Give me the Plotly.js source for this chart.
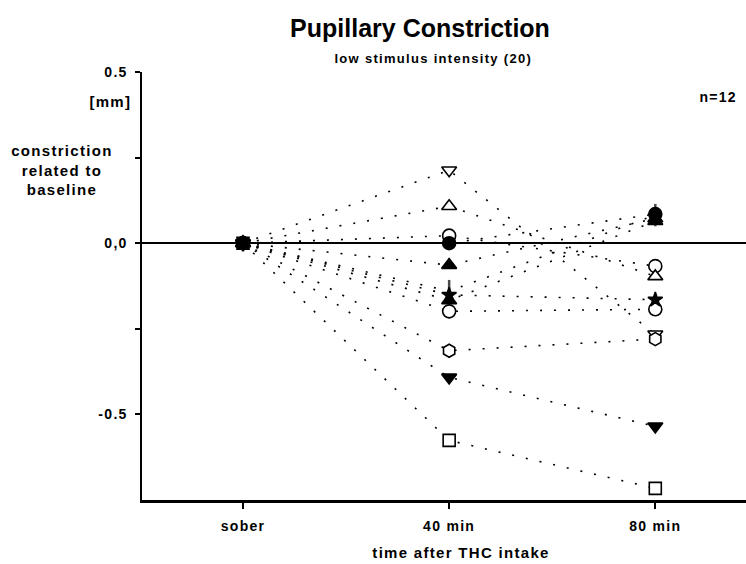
<!DOCTYPE html>
<html>
<head>
<meta charset="utf-8">
<script src="https://cdn.plot.ly/plotly-3.0.1.min.js"></script>
<style>
html,body{margin:0;padding:0;background:#fff}
#chart{width:746px;height:564px}
#chart text{letter-spacing:1.3px}
#chart text.gtitle{letter-spacing:0px}
</style>
</head>
<body>
<div id="chart"></div>
<script>
// Categories (time points)
const timeLabels = ["sober", "40 min", "80 min"];
const timeIndex = [0, 1, 2];

// Per-subject values (constriction related to baseline, mm)
const s1_downOpen   = [0, 0.213, -0.266];
const s2_upOpen     = [0, 0.108, -0.097];
const s3_circleOpen = [0, 0.022, -0.067];
const s4_circleFill = [0, 0.000, 0.085];
const s5_upFill     = [0, -0.064, 0.072];
const s6_vline      = [0, -0.140, 0.082];
const s7_star       = [0, -0.151, -0.165];
const s8_upFill2    = [0, -0.167, 0.064];
const s9_circleOpen = [0, -0.199, -0.193];
const s10_hexOpen   = [0, -0.314, -0.280];
const s11_downFill  = [0, -0.392, -0.535];
const s12_squareOpen= [0, -0.576, -0.716];

const yTickVals = [0.5, 0.25, 0, -0.25, -0.5];
const yTickText = ["0.5", "", "0,0", "", "-0.5"];

const dotLine = {color: "#000", width: 1.6, dash: "2px,12px"};
function subj(y, symbol, fill, size, lw) {
  return {
    x: timeIndex, y: y, type: "scatter", mode: "lines+markers",
    line: dotLine, cliponaxis: false, hoverinfo: "skip",
    marker: {symbol: symbol, size: size || 13, color: fill, line: {color: "#000", width: lw === undefined ? 1.6 : lw}}
  };
}
const traces = [
  subj(s6_vline, "line-ns", "#000", [12, 16, 16], 2.5),
  subj(s3_circleOpen, "circle", "#fff"),
  subj(s1_downOpen, "triangle-down", "#fff"),
  subj(s2_upOpen, "triangle-up", "#fff"),
  subj(s10_hexOpen, "hexagon", "#fff"),
  subj(s9_circleOpen, "circle", "#fff"),
  subj(s8_upFill2, "triangle-up", "#000"),
  subj(s7_star, "star", "#000", 11),
  subj(s5_upFill, "triangle-up", "#000"),
  subj(s4_circleFill, "circle", "#000"),
  subj(s11_downFill, "triangle-down", "#000"),
  subj(s12_squareOpen, "square", ["#000", "#fff", "#fff"], 12)
];

const F = "Liberation Sans, Arial, sans-serif";
const W = 746, H = 564, L = 142, R = 0, T = 72, B = 64;
const layout = {
  width: W, height: H,
  margin: {l: L, r: R, t: T, b: B},
  paper_bgcolor: "#fff", plot_bgcolor: "#fff",
  showlegend: false,
  font: {family: F, color: "#000", weight: "bold"},
  title: {text: "Pupillary Constriction", x: 420 / W, xanchor: "center", xref: "container",
          y: 1 - 28 / H, yanchor: "middle", yref: "container",
          font: {family: F, size: 25, weight: "bold"}},
  xaxis: {
    range: [-0.49, 2.44], showgrid: false, zeroline: false,
    showline: true, linewidth: 2.5, linecolor: "#000",
    ticks: "outside", ticklen: 6, tickwidth: 2, tickcolor: "#000",
    tickvals: timeIndex, ticktext: timeLabels,
    tickfont: {family: F, size: 14, weight: "bold"},
    ticklabelstandoff: 6
  },
  yaxis: {
    range: [-0.75, 0.5], showgrid: false,
    zeroline: true, zerolinecolor: "#000", zerolinewidth: 1.5,
    showline: true, linewidth: 2.5, linecolor: "#000",
    ticks: "outside", ticklen: 5, tickwidth: 2, tickcolor: "#000",
    tickvals: yTickVals, ticktext: yTickText,
    tickfont: {family: F, size: 14, weight: "bold"},
    ticklabelstandoff: 4
  },
  annotations: [
    {text: "low stimulus intensity (20)", showarrow: false,
     font: {family: F, size: 13, weight: "bold"}, xanchor: "center", yanchor: "middle"},
    {text: "[mm]", showarrow: false, font: {family: F, size: 15, weight: "bold"}, xanchor: "right", yanchor: "middle"},
    {text: "constriction<br>related to<br>baseline", showarrow: false, align: "center",
     font: {family: F, size: 15, weight: "bold"}, xanchor: "center", yanchor: "middle"},
    {text: "n=12", showarrow: false, font: {family: F, size: 14, weight: "bold"}, xanchor: "center", yanchor: "middle"},
    {text: "time after THC intake", showarrow: false, font: {family: F, size: 15, weight: "bold"}, xanchor: "center", yanchor: "middle"}
  ]
};
function px(x) { return (x - L) / (W - L - R); }
function py(y) { return (H - B - y) / (H - T - B); }
const annPos = [[433, 58], [131, 101], [62, 170], [718, 97], [461, 552]];
layout.annotations.forEach((a, i) => {
  a.xref = "paper"; a.yref = "paper";
  a.x = px(annPos[i][0]); a.y = py(annPos[i][1]);
});

Plotly.newPlot("chart", traces, layout, {displayModeBar: false, staticPlot: true});
</script>
</body>
</html>
